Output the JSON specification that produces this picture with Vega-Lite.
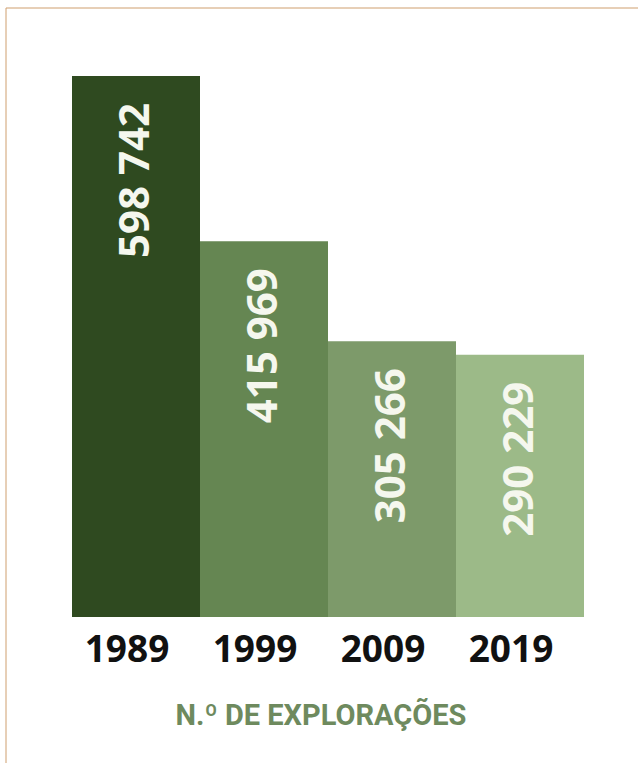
{
  "$schema": "https://vega.github.io/schema/vega-lite/v6.json",
  "autosize": {"type": "none"},
  "padding": {"left": 5.5, "top": 7.5, "right": 0, "bottom": 0},
  "width": 634,
  "height": 756,
  "background": "white",
  "config": {"view": {"stroke": "#cf9f6e", "strokeWidth": 1}},
  "data": {"values": [
    {"year": "1989", "value": 598742, "label": "598 742"},
    {"year": "1999", "value": 415969, "label": "415 969"},
    {"year": "2009", "value": 305266, "label": "305 266"},
    {"year": "2019", "value": 290229, "label": "290 229"}
  ]},
  "encoding": {
    "x": {"field": "year", "type": "nominal", "sort": null,
      "scale": {"range": [66.5, 578.5], "paddingInner": 0, "paddingOuter": 0},
      "axis": {"orient": "bottom", "offset": -146.5, "domain": false, "ticks": false, "labelAngle": 0,
        "labelPadding": 15, "labelOffset": -9, "labelFont": "Open Sans", "labelFontWeight": "bold", "labelFontSize": 37, "labelColor": "#111111",
        "title": "N.º DE EXPLORAÇÕES", "titleFont": "Roboto", "titleFontWeight": "bold", "titleFontSize": 29, "titleColor": "#6e8a5e", "titlePadding": 33, "titleX": 315}},
    "y": {"field": "value", "type": "quantitative", "scale": {"domain": [0, 598742], "range": [609.5, 68.5], "nice": false}, "axis": null}
  },
  "layer": [
    {"mark": {"type": "bar"},
     "encoding": {"color": {"field": "year", "type": "nominal", "sort": null, "legend": null,
       "scale": {"range": ["#2f4a20", "#658652", "#7d9a6a", "#9cba88"]}}}},
    {"mark": {"type": "text", "angle": 270, "align": "right", "baseline": "middle", "dx": -27,
       "font": "Open Sans", "fontWeight": "bold", "fontSize": 42, "fill": "#f5f7ee"},
     "encoding": {"text": {"field": "label"}}}
  ]
}
